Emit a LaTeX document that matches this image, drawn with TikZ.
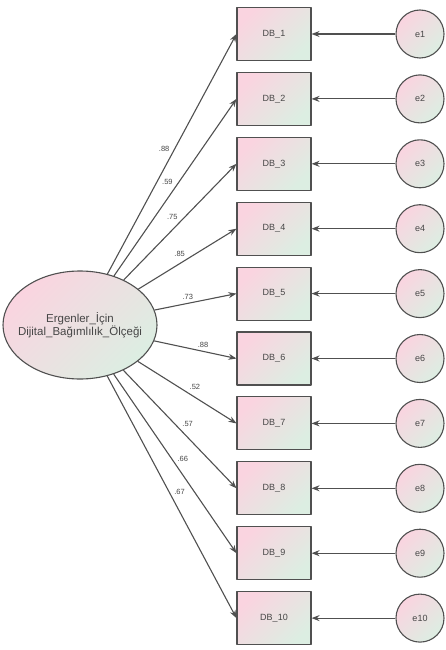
\documentclass[tikz,border=0pt]{standalone}
\usepackage{fontspec}
\setmainfont{Liberation Sans}
\usetikzlibrary{arrows.meta,shapes.geometric}
\definecolor{pinkish}{RGB}{250,212,224}
\definecolor{greenish}{RGB}{220,238,226}
\definecolor{edgegray}{RGB}{80,80,80}
\definecolor{textgray}{RGB}{70,70,70}
\begin{document}
\begin{tikzpicture}[x=1pt, y=-1pt, line join=round, >={Stealth[length=8pt,width=6pt]},
    font=\fontsize{9}{10}\selectfont, text=textgray,
    obs/.style={draw=edgegray, line width=1.1pt, minimum width=74pt, minimum height=53pt,
        inner sep=0pt, left color=pinkish, right color=greenish, shading angle=45},
    err/.style={circle, draw=edgegray, line width=1.1pt, minimum size=48pt, inner sep=0pt,
        left color=pinkish, right color=greenish, shading angle=45},
    latent/.style={ellipse, draw=edgegray, line width=1.1pt, minimum width=154pt,
        minimum height=108pt, inner xsep=-25pt, inner ysep=0pt, align=center,
        left color=pinkish, right color=greenish, shading angle=45,
        font=\fontsize{11.5}{13.5}\selectfont},
    path/.style={draw=edgegray, line width=1.1pt},
    wt/.style={font=\fontsize{7.5}{8.5}\selectfont, inner sep=2pt}]
    \useasboundingbox (0,0) rectangle (446,650);
    % latent variable
    \node[latent] (olcek) at (80,325) {Ergenler\_İçin\\Dijital\_Bağımlılık\_Ölçeği};
    % items, errors and loadings
    \foreach\i/\w/\side in{1/.88/above left, 2/.59/above left, 3/.75/above left,
        4/.85/above left, 5/.73/above left, 6/.88/above right, 7/.52/above right,
        8/.57/above right, 9/.66/above right, 10/.67/above right}{
        \node[obs] (db\i) at (274,{34+(\i-1)*64.9}) {DB\_\i};
        \node[err] (e\i) at (420,{34+(\i-1)*64.9}) {e\i};
        \draw[path,->] (e\i) -- (db\i);
        \draw[path,->] (olcek) -- (db\i.west) node[wt,midway,\side]{\w};
    }
\end{tikzpicture}
\end{document}
